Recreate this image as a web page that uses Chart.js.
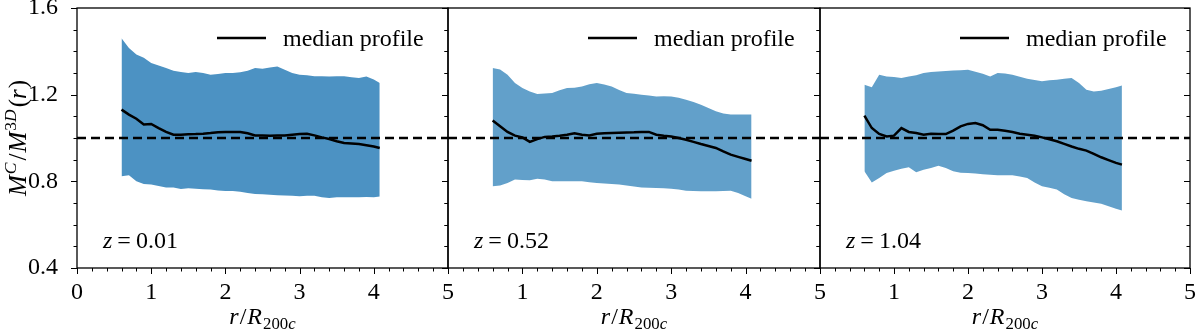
<!DOCTYPE html>
<html lang="en">
<head>
  <meta charset="UTF-8">
  <title>Mass ratio profiles</title>
  <script src="https://cdn.jsdelivr.net/npm/chart.js"></script>
  <style>
    html, body { margin: 0; padding: 0; background: #fff; }
    #wrap { position: relative; width: 1200px; height: 332px; }
    #wrap canvas { position: absolute; left: 0; top: 0; }
  </style>
</head>
<body>
  <div id="wrap">
    <canvas id="c0" width="1200" height="332"></canvas>
    <canvas id="c1" width="1200" height="332"></canvas>
    <canvas id="c2" width="1200" height="332"></canvas>
  </div>

  <script>
    // radius grid (r / R200c), shared by all panels
    const radii = [0.6, 0.7, 0.8, 0.9, 1.0, 1.1, 1.2, 1.3, 1.4, 1.5, 1.6, 1.7, 1.8, 1.9, 2.0, 2.1, 2.2, 2.3,
                   2.4, 2.5, 2.6, 2.7, 2.8, 2.9, 3.0, 3.1, 3.2, 3.3, 3.4, 3.5, 3.6, 3.7, 3.8, 3.9, 4.0, 4.08];

    const redshifts = ['0.01', '0.52', '1.04'];

    // z = 0.01
    const upper1 = [1.46, 1.415, 1.385, 1.37, 1.346, 1.335, 1.323, 1.31, 1.305, 1.30, 1.305, 1.30, 1.292, 1.295, 1.30, 1.30, 1.303, 1.31,
                    1.323, 1.32, 1.325, 1.33, 1.315, 1.30, 1.292, 1.29, 1.285, 1.285, 1.284, 1.285, 1.285, 1.28, 1.277, 1.284, 1.27, 1.254];
    const lower1 = [0.823, 0.828, 0.80, 0.788, 0.785, 0.778, 0.772, 0.772, 0.765, 0.768, 0.766, 0.764, 0.762, 0.758, 0.755, 0.755, 0.752, 0.746,
                    0.742, 0.740, 0.738, 0.736, 0.735, 0.733, 0.731, 0.733, 0.733, 0.727, 0.723, 0.726, 0.727, 0.727, 0.727, 0.728, 0.727, 0.73];
    const median1 = [1.131, 1.108, 1.089, 1.062, 1.065, 1.046, 1.028, 1.015, 1.015, 1.017, 1.018, 1.02, 1.023, 1.027, 1.028, 1.028, 1.028, 1.022,
                     1.012, 1.012, 1.01, 1.012, 1.012, 1.015, 1.018, 1.02, 1.012, 1.003, 0.995, 0.985, 0.977, 0.975, 0.972, 0.967, 0.961, 0.954];

    // z = 0.52
    const upper2 = [1.323, 1.316, 1.292, 1.254, 1.231, 1.215, 1.203, 1.205, 1.208, 1.22, 1.231, 1.232, 1.238, 1.248, 1.254, 1.247, 1.238, 1.222,
                    1.208, 1.204, 1.20, 1.196, 1.192, 1.193, 1.192, 1.186, 1.177, 1.166, 1.154, 1.138, 1.123, 1.113, 1.108, 1.108, 1.108, 1.108];
    const lower2 = [0.777, 0.781, 0.792, 0.808, 0.806, 0.805, 0.812, 0.808, 0.80, 0.80, 0.80, 0.80, 0.80, 0.796, 0.792, 0.79, 0.788, 0.785,
                    0.781, 0.776, 0.772, 0.77, 0.769, 0.768, 0.766, 0.762, 0.757, 0.755, 0.754, 0.754, 0.754, 0.755, 0.757, 0.746, 0.731, 0.72];
    const median2 = [1.081, 1.054, 1.028, 1.011, 1.003, 0.982, 0.995, 1.005, 1.007, 1.01, 1.015, 1.022, 1.015, 1.012, 1.02, 1.022, 1.023, 1.024,
                     1.025, 1.026, 1.028, 1.028, 1.015, 1.01, 1.007, 1.0, 0.992, 0.982, 0.972, 0.963, 0.954, 0.938, 0.923, 0.913, 0.903, 0.895];

    // z = 1.04
    const upper3 = [1.246, 1.234, 1.292, 1.284, 1.281, 1.277, 1.284, 1.29, 1.30, 1.305, 1.307, 1.309, 1.311, 1.313, 1.315, 1.306, 1.296, 1.284,
                    1.30, 1.298, 1.292, 1.283, 1.274, 1.268, 1.262, 1.266, 1.269, 1.273, 1.277, 1.254, 1.223, 1.215, 1.218, 1.226, 1.234, 1.242];
    const lower3 = [0.846, 0.795, 0.815, 0.838, 0.849, 0.858, 0.865, 0.842, 0.854, 0.862, 0.872, 0.862, 0.846, 0.84, 0.838, 0.836, 0.833, 0.83,
                    0.828, 0.828, 0.828, 0.822, 0.815, 0.795, 0.777, 0.77, 0.762, 0.74, 0.723, 0.715, 0.708, 0.702, 0.696, 0.685, 0.674, 0.665];
    const median3 = [1.103, 1.046, 1.019, 1.007, 1.011, 1.046, 1.028, 1.023, 1.015, 1.02, 1.018, 1.018, 1.034, 1.054, 1.065, 1.069, 1.059, 1.038,
                     1.038, 1.033, 1.028, 1.02, 1.015, 1.01, 1.003, 0.994, 0.985, 0.973, 0.961, 0.95, 0.942, 0.927, 0.911, 0.898, 0.885, 0.877];

    const yTicks = [0.4, 0.8, 1.2, 1.6];
    const xTicks = [0, 1, 2, 3, 4, 5];

    const uppers = [upper1, upper2, upper3];
    const lowers = [lower1, lower2, lower3];
    const medians = [median1, median2, median3];
    const bandColors = ['#4c92c3', '#62a0ca', '#62a0ca'];

    // plot area edges of each panel
    const panelLeft = [77, 448, 820];
    const panelRight = [448, 820, 1190];

    const FONT = '"Liberation Serif", "Times New Roman", serif';

    function pts(arr) {
      return radii.map((r, i) => ({ x: r, y: arr[i] }));
    }

    // text runs with italic / sub / sup pieces
    function richWidth(ctx, parts, size) {
      let w = 0;
      parts.forEach(p => {
        const s = (p.sub || p.sup) ? size * 0.7 : size;
        ctx.font = (p.it ? 'italic ' : '') + s + 'px ' + FONT;
        w += ctx.measureText(p.t).width + (p.gap || 0);
      });
      return w;
    }
    function drawRich(ctx, parts, x, y, size, center) {
      let cx = center ? x - richWidth(ctx, parts, size) / 2 : x;
      ctx.textAlign = 'left';
      ctx.textBaseline = 'alphabetic';
      parts.forEach(p => {
        const s = (p.sub || p.sup) ? size * 0.7 : size;
        ctx.font = (p.it ? 'italic ' : '') + s + 'px ' + FONT;
        const dy = p.sub ? size * 0.22 : (p.sup ? -size * 0.42 : 0);
        ctx.fillText(p.t, cx, y + dy);
        cx += ctx.measureText(p.t).width + (p.gap || 0);
      });
    }

    const xTitle = [{ t: 'r', it: true, gap: 1 }, { t: '/', gap: 1 }, { t: 'R', it: true, gap: 1 }, { t: '200', sub: true }, { t: 'c', it: true, sub: true }];
    const yTitle = [{ t: 'M', it: true, gap: 1 }, { t: 'C', it: true, sup: true, gap: 2 }, { t: '/', gap: 1 }, { t: 'M', it: true, gap: 1 },
                    { t: '3', sup: true }, { t: 'D', it: true, sup: true, gap: 2 }, { t: '(' }, { t: 'r', it: true, gap: 1 }, { t: ')' }];

    const decor = {
      id: 'decor',
      afterDraw(chart, args, opts) {
        const ctx = chart.ctx;
        const a = chart.chartArea;
        const xs = chart.scales.x, ys = chart.scales.y;
        ctx.save();
        ctx.strokeStyle = '#000';
        ctx.fillStyle = '#000';

        // frame
        ctx.lineWidth = 1.3;
        ctx.strokeRect(a.left, a.top, a.right - a.left, a.bottom - a.top);

        // y ticks every 0.1 (longer every 0.4), left of both spines
        ctx.lineWidth = 1;
        for (let i = 0; i <= 12; i++) {
          const py = Math.round(ys.getPixelForValue(0.4 + i * 0.1)) + 0.5;
          const len = (i % 4 === 0) ? 6 : 3.5;
          ctx.beginPath();
          ctx.moveTo(a.left, py); ctx.lineTo(a.left - len, py);
          ctx.moveTo(a.right, py); ctx.lineTo(a.right - len, py);
          ctx.stroke();
        }
        // x ticks every 0.2, longer at integers
        for (let i = 0; i <= 25; i++) {
          const px = Math.round(xs.getPixelForValue(i * 0.2)) + 0.5;
          const len = (i % 5 === 0) ? 6 : 3.5;
          ctx.beginPath();
          ctx.moveTo(px, a.bottom); ctx.lineTo(px, a.bottom + len);
          ctx.stroke();
        }

        // legend
        ctx.lineWidth = 2.5;
        ctx.beginPath();
        ctx.moveTo(a.left + 140, 38); ctx.lineTo(a.left + 189, 38);
        ctx.stroke();
        ctx.font = '24px ' + FONT;
        ctx.textAlign = 'left';
        ctx.textBaseline = 'alphabetic';
        ctx.fillText('median profile', a.left + 206, 46);

        // redshift label
        drawRich(ctx, [{ t: 'z', it: true, gap: 5 }, { t: '=', gap: 5 }, { t: opts.z }], a.left + 26, 248, 24, false);

        // x title
        drawRich(ctx, xTitle, (a.left + a.right) / 2, 324, 24, true);

        // y title, first panel only
        if (opts.yTitle) {
          ctx.translate(26, 138);
          ctx.rotate(-Math.PI / 2);
          drawRich(ctx, yTitle, 0, 0, 25, true);
        }
        ctx.restore();
      }
    };

    function makePanel(k) {
      const ctx = document.getElementById('c' + k).getContext('2d');
      return new Chart(ctx, {
        type: 'line',
        data: {
          datasets: [
            { data: pts(lowers[k]), borderWidth: 0, borderColor: 'rgba(0,0,0,0)', pointRadius: 0, fill: false, order: 10 },
            { data: pts(uppers[k]), borderWidth: 0, borderColor: 'rgba(0,0,0,0)', pointRadius: 0,
              fill: 0, backgroundColor: bandColors[k], order: 9 },
            { label: 'median profile', data: pts(medians[k]), borderColor: '#000', borderWidth: 2.5,
              pointRadius: 0, fill: false, tension: 0, order: 2 },
            { data: [{ x: 0, y: 1 }, { x: 5, y: 1 }], borderColor: '#000', borderWidth: 2.5,
              borderDash: [9, 5], pointRadius: 0, fill: false, order: 1 }
          ]
        },
        options: {
          responsive: false,
          animation: false,
          events: [],
          layout: { padding: { left: k === 0 ? 0 : panelLeft[k], right: 1200 - panelRight[k], top: 8, bottom: 0 } },
          plugins: {
            legend: { display: false },
            tooltip: { enabled: false },
            decor: { z: redshifts[k], yTitle: k === 0 }
          },
          scales: {
            x: {
              type: 'linear', min: 0, max: 5,
              afterBuildTicks: s => { s.ticks = xTicks.map(v => ({ value: v })); },
              afterFit: s => { s.height = 64; s.paddingLeft = 0; s.paddingRight = 0; },
              grid: { display: false },
              border: { display: false },
              ticks: {
                padding: 2,
                color: '#000',
                font: { family: FONT, size: 24 },
                maxRotation: 0,
                callback: v => (k > 0 && v === 0) ? '' : String(v)
              }
            },
            y: {
              type: 'linear', min: 0.4, max: 1.6,
              afterBuildTicks: s => { s.ticks = yTicks.map(v => ({ value: v })); },
              afterFit: s => { s.width = k === 0 ? 77 : 0; s.paddingTop = 0; s.paddingBottom = 0; },
              grid: { display: false },
              border: { display: false },
              ticks: {
                display: k === 0,
                padding: 11,
                color: '#000',
                font: { family: FONT, size: 24 },
                callback: v => v.toFixed(1)
              }
            }
          }
        },
        plugins: [decor]
      });
    }

    [0, 1, 2].forEach(makePanel);
  </script>
</body>
</html>
